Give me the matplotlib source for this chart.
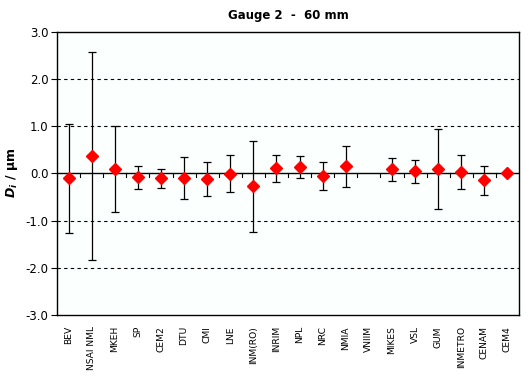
import numpy as np
import matplotlib
matplotlib.use("Agg")
import matplotlib.pyplot as plt

# Gauge 2 - 60 mm : degrees of equivalence with expanded uncertainties
labs = ["BEV", "NSAI NML", "MKEH", "SP", "CEM2", "DTU", "CMI", "LNE", "INM(RO)",
        "INRIM", "NPL", "NRC", "NMIA", "VNIIM", "MIKES", "VSL", "GUM",
        "INMETRO", "CENAM", "CEM4"]
di = [-0.11, 0.37, 0.09, -0.085, -0.11, -0.11, -0.13, -0.01, -0.28,
      0.11, 0.13, -0.06, 0.15, np.nan, 0.085, 0.04, 0.085,
      0.02, -0.15, 0.015]
U = [1.15, 2.2, 0.92, 0.245, 0.21, 0.445, 0.36, 0.39, 0.97,
     0.285, 0.225, 0.295, 0.435, np.nan, 0.24, 0.245, 0.845,
     0.36, 0.305, np.nan]
yticks = [3.0, 2.0, 1.0, 0.0, -1.0, -2.0, -3.0]

x = np.arange(len(labs))

fig = plt.figure(figsize=(5.29, 3.82), dpi=100)
fig.patch.set_facecolor("white")
ax = fig.add_axes([0.1078, 0.1754, 0.8733, 0.7421])
ax.set_facecolor("#fbfffd")

for g in [2.0, 1.0, -1.0, -2.0]:
    ax.axhline(g, color="black", lw=0.8, ls=(0, (3, 3)), zorder=1)
ax.axhline(0, color="black", lw=1.0, zorder=2)

# small tick marks on the zero line between categories
for b in x[:-1] + 0.5:
    ax.plot([b, b], [0, -0.08], color="black", lw=0.8, zorder=2)

ax.errorbar(x, di, yerr=U, fmt="none", ecolor="black", elinewidth=0.9,
            capsize=2.6, capthick=0.9, zorder=3)
ax.plot(x, di, ls="none", marker="D", ms=6.5, color="#ff0000", mec="#ff0000", zorder=4)

ax.set_xlim(-0.5, len(labs) - 0.5)
ax.set_ylim(-3.0, 3.0)
ax.set_yticks(yticks)
ax.set_yticklabels([f"{v:.1f}" for v in yticks], fontsize=8.5)
ax.tick_params(axis="y", direction="out", length=4, width=0.8, pad=2)
ax.set_xticks(x)
ax.set_xticklabels(labs, rotation=90, fontsize=6.6)
ax.tick_params(axis="x", length=0, pad=8)

for s in ax.spines.values():
    s.set_linewidth(1.0)

ax.set_ylabel(r"$\mathbfit{D}_\mathbfit{i}$ / µm", fontsize=9, fontweight="bold", labelpad=4)
ax.set_title("Gauge 2  -  60 mm", fontsize=8.5, fontweight="bold", pad=9)

fig.savefig("out.png", dpi=100)
